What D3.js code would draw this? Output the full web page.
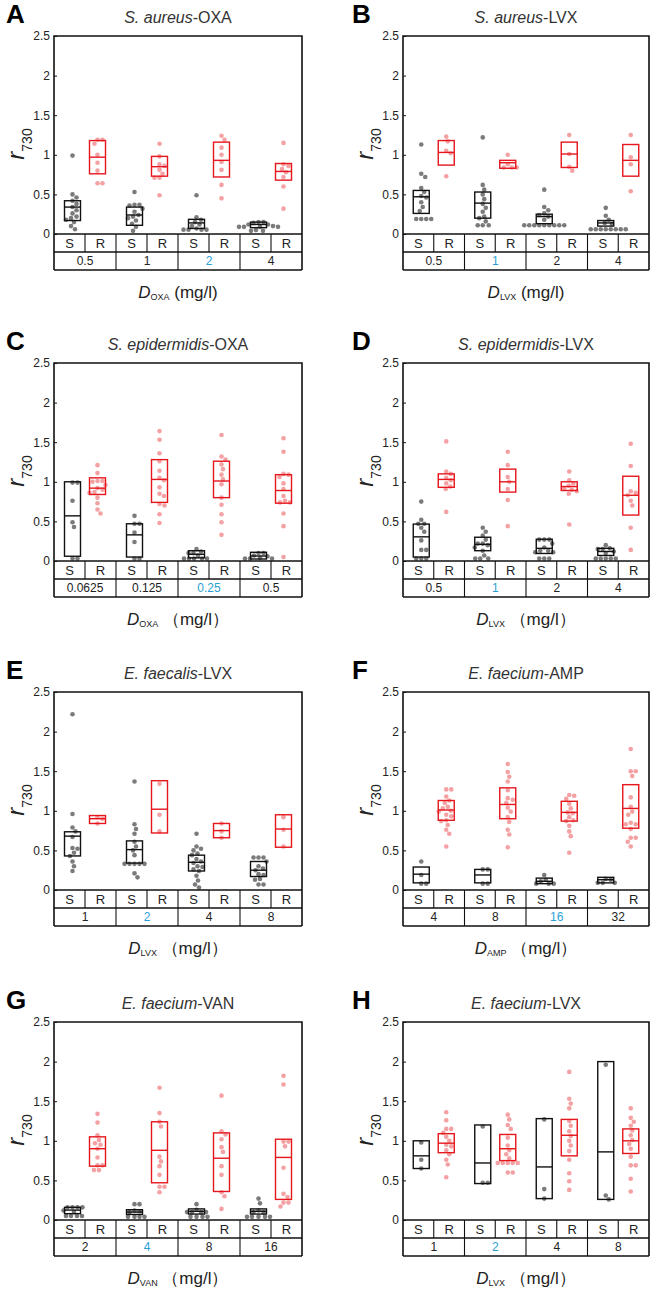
<!DOCTYPE html>
<html>
<head>
<meta charset="utf-8">
<script src="https://cdn.jsdelivr.net/npm/d3@7"></script>
<style>
body { margin: 0; background: #fff; }
svg { font-family: "Liberation Sans", Arial, sans-serif; }
</style>
</head>
<body>
<svg id="fig" width="652" height="1292"></svg>
<script>
// shared labels
const yTicks = [0, 0.5, 1, 1.5, 2, 2.5];
const groupNames = ["S", "R"];
const panelLetters = ["A", "B", "C", "D", "E", "F", "G", "H"];
const species = ["S. aureus", "S. aureus", "S. epidermidis", "S. epidermidis", "E. faecalis", "E. faecium", "E. faecium", "E. faecium"];
const drugs = ["OXA", "LVX", "OXA", "LVX", "LVX", "AMP", "VAN", "LVX"];
const highlight = [2, 1, 2, 1, 1, 2, 1, 1];

// A  S. aureus-OXA
const doseA = ["0.5", "1", "2", "4"];
const sA = [[0.99,0.5,0.46,0.42,0.38,0.34,0.3,0.26,0.22,0.2,0.18,0.15,0.1,0.06],
            [0.53,0.37,0.37,0.36,0.32,0.28,0.24,0.22,0.2,0.17,0.13,0.09,0.04],
            [0.49,0.21,0.18,0.15,0.12,0.1,0.07,0.055,0.055,0.055,0.055],
            [0.15,0.15,0.14,0.12,0.12,0.1,0.09,0.09,0.09,0.09,0.05,0.04,0.04]];
const rA = [[1.19,1.19,1.14,1.0,0.9,0.8,0.64,0.64],
            [1.14,0.98,0.88,0.86,0.81,0.76,0.71,0.71,0.49],
            [1.24,1.19,1.09,1.0,0.91,0.81,0.62,0.45],
            [1.15,0.88,0.86,0.82,0.78,0.72,0.6,0.32]];
const boxSA = [[0.17,0.34,0.42],[0.11,0.24,0.34],[0.07,0.14,0.185],[0.08,0.12,0.15]];
const boxRA = [[0.76,0.97,1.18],[0.73,0.85,0.98],[0.72,0.93,1.16],[0.68,0.79,0.89]];

// B  S. aureus-LVX
const doseB = ["0.5", "1", "2", "4"];
const sB = [[1.13,0.76,0.72,0.58,0.53,0.48,0.46,0.4,0.34,0.29,0.19,0.19,0.19,0.19],
            [1.22,0.62,0.56,0.5,0.44,0.38,0.33,0.28,0.22,0.2,0.16,0.11,0.11,0.11],
            [0.56,0.34,0.3,0.26,0.24,0.22,0.18,0.11,0.11,0.11,0.11,0.11,0.11,0.11,0.11,0.11],
            [0.33,0.23,0.18,0.14,0.13,0.06,0.06,0.06,0.06,0.06,0.06,0.06,0.06]];
const rB = [[1.23,1.17,1.05,1.02,0.73],[1.0,0.88,0.84,0.84,0.84],[1.25,1.01,0.85,0.8],[1.25,0.97,0.88,0.54]];
const boxSB = [[0.26,0.47,0.55],[0.2,0.39,0.53],[0.13,0.22,0.25],[0.1,0.14,0.17]];
const boxRB = [[0.87,1.03,1.18],[0.83,0.9,0.93],[0.84,1.01,1.16],[0.73,0.93,1.13]];

// C  S. epidermidis-OXA
const doseC = ["0.0625", "0.125", "0.25", "0.5"];
const sC = [[0.99,0.99,0.76,0.49,0.43,0.03,0.03],
            [0.57,0.47,0.47,0.36,0.24,0.03,0.03],
            [0.15,0.12,0.1,0.1,0.07,0.03,0.03,0.03,0.03,0.03],
            [0.1,0.1,0.07,0.06,0.04,0.03,0.03,0.03]];
const rC = [[1.21,1.11,1.01,1.01,1.0,0.96,0.92,0.9,0.87,0.86,0.8,0.73,0.65,0.6],
            [1.64,1.53,1.36,1.26,1.14,1.05,1.02,0.93,0.85,0.82,0.72,0.7,0.59,0.48],
            [1.59,1.32,1.28,1.22,1.16,1.09,1.03,0.97,0.8,0.71,0.59,0.49,0.33],
            [1.55,1.38,1.1,1.09,1.06,0.98,0.91,0.82,0.76,0.74,0.74,0.6,0.44,0.05]];
const boxSC = [[0.06,0.57,1.0],[0.05,0.33,0.47],[0.04,0.085,0.13],[0.025,0.063,0.11]];
const boxRC = [[0.84,0.92,1.05],[0.74,1.03,1.28],[0.8,1.01,1.26],[0.73,0.89,1.09]];

// D  S. epidermidis-LVX
const doseD = ["0.5", "1", "2", "4"];
const sD = [[0.75,0.52,0.47,0.47,0.42,0.37,0.26,0.14,0.14,0.03,0.03,0.03],
            [0.42,0.37,0.32,0.27,0.22,0.22,0.2,0.17,0.13,0.07,0.03,0.03,0.03],
            [0.27,0.27,0.27,0.22,0.17,0.13,0.13,0.11,0.11,0.03,0.03,0.03],
            [0.2,0.16,0.15,0.15,0.12,0.1,0.03,0.03,0.03,0.03,0.03]];
const rD = [[1.51,1.13,1.1,1.05,1.02,0.98,0.94,0.91,0.62],
            [1.38,1.21,1.06,1.0,0.91,0.77,0.44],
            [1.13,1.02,0.98,0.95,0.92,0.9,0.88,0.85,0.46],
            [1.48,1.2,0.88,0.86,0.83,0.76,0.7,0.42,0.14]];
const boxSD = [[0.05,0.305,0.466],[0.13,0.21,0.3],[0.095,0.16,0.275],[0.07,0.12,0.16]];
const boxRD = [[0.93,1.03,1.1],[0.87,1.0,1.16],[0.89,0.94,1.0],[0.58,0.83,1.07]];

// E  E. faecalis-LVX
const doseE = ["1", "2", "4", "8"];
const sE = [[2.22,0.96,0.79,0.74,0.67,0.53,0.52,0.47,0.43,0.36,0.3,0.24],
            [1.37,0.83,0.77,0.71,0.61,0.55,0.5,0.44,0.33,0.33,0.33,0.33,0.33,0.21,0.16],
            [0.71,0.55,0.52,0.5,0.46,0.44,0.39,0.36,0.34,0.3,0.29,0.26,0.24,0.18,0.12,0.07,0.03],
            [0.41,0.41,0.41,0.36,0.3,0.27,0.25,0.2,0.19,0.14,0.13,0.07,0.07]];
const rE = [[0.92,0.9,0.84],[1.34,0.95,0.74],[0.84,0.74,0.66],[0.92,0.76,0.55]];
const boxSE = [[0.43,0.68,0.735],[0.34,0.51,0.62],[0.24,0.35,0.44],[0.17,0.25,0.36]];
const boxRE = [[0.84,0.9,0.94],[0.72,1.02,1.38],[0.66,0.75,0.84],[0.54,0.77,0.95]];

// F  E. faecium-AMP
const doseF = ["4", "8", "16", "32"];
const sF = [[0.36,0.19,0.08,0.08],[0.26,0.26,0.08,0.08],[0.19,0.13,0.11,0.08,0.08,0.08],[0.14,0.13,0.09,0.09,0.09]];
const rF = [[1.27,1.27,1.18,1.13,1.1,1.05,1.03,1.0,0.99,0.95,0.93,0.88,0.87,0.82,0.76,0.71,0.55],
            [1.59,1.49,1.43,1.37,1.26,1.16,1.14,1.1,1.04,0.99,0.92,0.86,0.76,0.7,0.54],
            [1.2,1.19,1.15,1.09,1.03,0.98,0.97,0.92,0.88,0.87,0.81,0.74,0.68,0.47],
            [1.78,1.5,1.5,1.44,1.17,1.05,0.99,0.95,0.85,0.83,0.83,0.77,0.66,0.66,0.61,0.55]];
const boxSF = [[0.09,0.2,0.29],[0.09,0.19,0.26],[0.08,0.11,0.15],[0.09,0.13,0.16]];
const boxRF = [[0.88,1.01,1.13],[0.9,1.08,1.29],[0.87,0.98,1.12],[0.78,1.03,1.33]];

// G  E. faecium-VAN
const doseG = ["2", "4", "8", "16"];
const sG = [[0.16,0.16,0.16,0.16,0.12,0.1,0.05,0.05,0.05,0.05],
            [0.2,0.2,0.12,0.11,0.1,0.04,0.04,0.04,0.04],
            [0.2,0.13,0.1,0.1,0.1,0.1,0.04,0.04,0.04,0.04],
            [0.27,0.21,0.12,0.1,0.1,0.04,0.04,0.04,0.04,0.04]];
const rG = [[1.34,1.23,1.07,1.01,0.97,0.95,0.9,0.79,0.69,0.69,0.63,0.63],
            [1.67,1.35,1.24,1.18,0.8,0.74,0.68,0.57,0.42,0.42,0.35],
            [1.57,1.12,1.08,1.02,0.92,0.86,0.68,0.57,0.35,0.3,0.14],
            [1.82,1.71,0.99,0.99,0.93,0.66,0.33,0.29,0.22,0.22,0.17]];
const boxSG = [[0.08,0.125,0.16],[0.07,0.1,0.13],[0.075,0.11,0.14],[0.075,0.11,0.14]];
const boxRG = [[0.68,0.9,1.05],[0.47,0.88,1.24],[0.36,0.78,1.1],[0.26,0.79,1.02]];

// H  E. faecium-LVX
const doseH = ["1", "2", "4", "8"];
const sH = [[0.98,0.76,0.65],[1.18,0.47,0.47],[1.27,0.39,0.27],[1.96,0.31,0.26]];
const rH = [[1.36,1.26,1.15,1.15,1.1,1.05,1.0,0.95,0.93,0.88,0.83,0.76,0.7,0.54],
            [1.33,1.27,1.2,1.15,1.04,0.94,0.88,0.83,0.78,0.72,0.72,0.72,0.72,0.72,0.6,0.6],
            [1.87,1.53,1.47,1.41,1.25,1.19,1.12,1.06,1.0,0.94,0.87,0.76,0.59,0.49,0.38],
            [1.41,1.29,1.24,1.19,1.13,1.07,1.01,0.96,0.9,0.8,0.69,0.69,0.52,0.36]];
const boxSH = [[0.65,0.81,1.0],[0.46,0.72,1.2],[0.27,0.67,1.28],[0.26,0.86,2.0]];
const boxRH = [[0.85,0.97,1.09],[0.75,0.9,1.08],[0.81,1.07,1.27],[0.84,1.0,1.15]];

const doses = [doseA, doseB, doseC, doseD, doseE, doseF, doseG, doseH];
const sVals = [sA, sB, sC, sD, sE, sF, sG, sH];
const rVals = [rA, rB, rC, rD, rE, rF, rG, rH];
const sBoxes = [boxSA, boxSB, boxSC, boxSD, boxSE, boxSF, boxSG, boxSH];
const rBoxes = [boxRA, boxRB, boxRC, boxRD, boxRE, boxRF, boxRG, boxRH];

// layout
const colLeft = [54, 403], colRight = [302, 649];
const rowTop = [36, 363, 692, 1022];
const plotH = 198, cellH = 18;
const colors = {
    S: { dot: "#7b7b7b", box: "#111" },
    R: { dot: "#f4a1a4", box: "#e5161c" }
};
const blue = "#2a9fd6";

const svg = d3.select("#fig");

/** beeswarm: nudge points sideways until they stop overlapping */
function swarm(values, y, r) {
    const pts = values.map(v => ({ v: v, y: y(v), x: 0 })).sort((a, b) => a.y - b.y);
    const placed = [];
    const d = 2 * r + 0.3;
    pts.forEach(p => {
        for (let k = 0; k < 400; k++) {
            const off = k === 0 ? 0 : (k % 2 ? 1 : -1) * Math.ceil(k / 2) * 0.5;
            const hit = placed.some(q => (q.x - off) ** 2 + (q.y - p.y) ** 2 < d * d);
            if (!hit) { p.x = off; break; }
        }
        placed.push(p);
    });
    return pts;
}

function drawPanel(i) {
    const col = i % 2, row = Math.floor(i / 2);
    const L = colLeft[col], R = colRight[col], T = rowTop[row];
    const B = T + plotH;
    const g = svg.append("g");

    const y = d3.scaleLinear().domain([0, 2.5]).range([B, T]);
    const xDose = d3.scaleBand().domain(doses[i]).range([L, R]);
    const bw = xDose.bandwidth();
    const xCell = d3.scaleBand().domain(groupNames).range([0, bw]);
    const xBox = d3.scalePoint().domain(groupNames).range([-12.5, 12.5]);
    const boxW = 16;

    // dots first, boxes on top
    doses[i].forEach((dose, j) => {
        const cx = xDose(dose) + bw / 2;
        [["S", sVals[i][j], sBoxes[i][j]], ["R", rVals[i][j], rBoxes[i][j]]].forEach(([grp, vals, box]) => {
            const bx = cx + xBox(grp);
            g.append("g").selectAll("circle")
                .data(swarm(vals, y, 2.3))
                .join("circle")
                .attr("cx", d => bx + d.x)
                .attr("cy", d => d.y)
                .attr("r", 2.3)
                .attr("fill", colors[grp].dot);
            g.append("rect")
                .attr("x", bx - boxW / 2)
                .attr("y", y(box[2]))
                .attr("width", boxW)
                .attr("height", y(box[0]) - y(box[2]))
                .attr("fill", "none")
                .attr("stroke", colors[grp].box)
                .attr("stroke-width", 1.4);
            g.append("line")
                .attr("x1", bx - boxW / 2).attr("x2", bx + boxW / 2)
                .attr("y1", y(box[1])).attr("y2", y(box[1]))
                .attr("stroke", colors[grp].box)
                .attr("stroke-width", 1.4);
        });
    });

    // y axis with inward ticks
    const axis = g.append("g")
        .attr("transform", `translate(${L},0)`)
        .call(d3.axisLeft(y).tickValues(yTicks).tickSize(-3).tickPadding(4).tickFormat(d3.format("")));
    axis.select(".domain").remove();
    axis.selectAll("line").attr("stroke", "#111");
    axis.selectAll("text").attr("font-size", 12).attr("fill", "#222").attr("font-family", "Liberation Sans, Arial, sans-serif");

    // frame + category table
    const tbl = g.append("g").attr("stroke", "#111").attr("fill", "none");
    tbl.append("path")
        .attr("d", `M${L},${B + 2 * cellH}V${T}H${R}V${B + 2 * cellH}`)
        .attr("stroke-width", 1.6);
    [B, B + cellH, B + 2 * cellH].forEach(yy => {
        tbl.append("line").attr("x1", L).attr("x2", R).attr("y1", yy).attr("y2", yy).attr("stroke-width", 1.4);
    });
    doses[i].forEach((dose, j) => {
        const x0 = xDose(dose);
        groupNames.forEach(grp => {
            if (x0 + xCell(grp) > L) {
                tbl.append("line")
                    .attr("x1", x0 + xCell(grp)).attr("x2", x0 + xCell(grp))
                    .attr("y1", B).attr("y2", B + cellH)
                    .attr("stroke-width", 1.1);
            }
            g.append("text")
                .attr("x", x0 + xCell(grp) + xCell.bandwidth() / 2)
                .attr("y", B + cellH / 2 + 4.5)
                .attr("text-anchor", "middle")
                .attr("font-size", 13)
                .attr("fill", "#222")
                .text(grp);
        });
        if (j > 0) {
            tbl.append("line")
                .attr("x1", x0).attr("x2", x0)
                .attr("y1", B + cellH).attr("y2", B + 2 * cellH)
                .attr("stroke-width", 1.1);
        }
        g.append("text")
            .attr("x", x0 + bw / 2)
            .attr("y", B + cellH * 1.5 + 4)
            .attr("text-anchor", "middle")
            .attr("font-size", 12)
            .attr("fill", j === highlight[i] ? blue : "#222")
            .text(dose);
    });

    // panel letter and title
    g.append("text")
        .attr("x", L - (col ? 51 : 48))
        .attr("y", T - 13)
        .attr("font-size", 26)
        .attr("font-weight", "bold")
        .attr("fill", "#000")
        .text(panelLetters[i]);
    const title = g.append("text")
        .attr("x", (L + R) / 2)
        .attr("y", T - 13)
        .attr("text-anchor", "middle")
        .attr("font-size", 16)
        .attr("fill", "#333");
    title.append("tspan").attr("font-style", "italic").text(species[i]);
    title.append("tspan").text("-" + drugs[i]);

    // x label
    const xl = g.append("text")
        .attr("x", (L + R) / 2)
        .attr("y", B + 2 * cellH + 28)
        .attr("text-anchor", "middle")
        .attr("font-size", 17)
        .attr("fill", "#222");
    xl.append("tspan").attr("font-style", "italic").text("D");
    xl.append("tspan").attr("font-size", 9).attr("dy", 2).text(drugs[i]);
    xl.append("tspan").attr("dy", -2).text(i < 2 ? " (mg/l)" : " （mg/l）");

    // y label
    const yl = g.append("text")
        .attr("transform", `translate(${L - 30},${T + 108}) rotate(-90)`)
        .attr("text-anchor", "middle")
        .attr("fill", "#222");
    yl.append("tspan").attr("font-size", 24).attr("font-style", "italic").text("r");
    yl.append("tspan").attr("font-size", 14).attr("dy", 8).text("730");
}

d3.range(8).forEach(drawPanel);
</script>
</body>
</html>
